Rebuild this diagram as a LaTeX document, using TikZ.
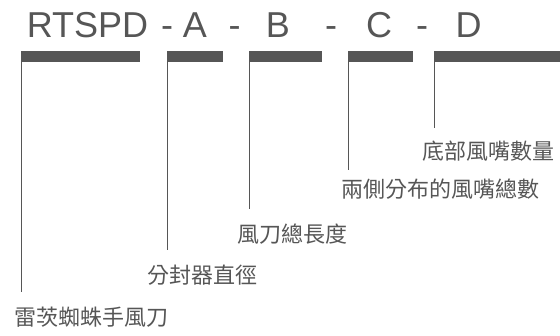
\documentclass[tikz,border=0pt]{standalone}
\usepackage{fontspec}
\setmainfont{Liberation Sans}
\newfontfamily\cjk{Noto Sans CJK TC}
\definecolor{ink}{HTML}{565656}

\begin{document}
\begin{tikzpicture}[x=1pt,y=-1pt,
    code/.style={text=ink, font=\fontsize{36}{36}\selectfont, inner sep=0pt, anchor=base},
    bar/.style={fill=ink, inner sep=0pt, minimum height=11pt, anchor=north west},
    lead/.style={draw=ink, line width=1.1pt},
    desc/.style={text=ink, font=\cjk\fontsize{22}{22}\selectfont, inner sep=0pt, anchor=base west}]
    \useasboundingbox (0,0) rectangle (560,336);

    % model code
    \node[code] (rtspd) at (87.5,38) {RTSPD};
    \node[code] (dashA) at (167,38) {-};
    \node[code] (codeA) at (195,38) {A};
    \node[code] (dashB) at (234.5,38) {-};
    \node[code] (codeB) at (278,38) {B};
    \node[code] (dashC) at (331,38) {-};
    \node[code] (codeC) at (379,38) {C};
    \node[code] (dashD) at (422,38) {-};
    \node[code] (codeD) at (468.5,38) {D};

    \node[bar, minimum width=119pt] (barR) at (21,51) {};
    \node[bar, minimum width=56pt] (barA) at (167,51) {};
    \node[bar, minimum width=73pt] (barB) at (249,51) {};
    \node[bar, minimum width=65pt] (barC) at (347.5,51) {};
    \node[bar, minimum width=126pt] (barD) at (434,51) {};

    % descriptions
    \node[desc] (txtR) at (14,326) {雷茨蜘蛛手風刀};
    \node[desc] (txtA) at (147,284) {分封器直徑};
    \node[desc] (txtB) at (237,243) {風刀總長度};
    \node[desc] (txtC) at (341,198) {兩側分布的風嘴總數};
    \node[desc] (txtD) at (422,160) {底部風嘴數量};

    \coordinate (endR) at (21.6,292);
    \coordinate (endA) at (167.6,250);
    \coordinate (endB) at (249.6,209);
    \coordinate (endC) at (348.1,170);
    \coordinate (endD) at (434.6,128);

    \draw[lead] ([xshift=0.6pt]barR.south west) -- (endR);
    \draw[lead] ([xshift=0.6pt]barA.south west) -- (endA);
    \draw[lead] ([xshift=0.6pt]barB.south west) -- (endB);
    \draw[lead] ([xshift=0.6pt]barC.south west) -- (endC);
    \draw[lead] ([xshift=0.6pt]barD.south west) -- (endD);
\end{tikzpicture}
\end{document}
